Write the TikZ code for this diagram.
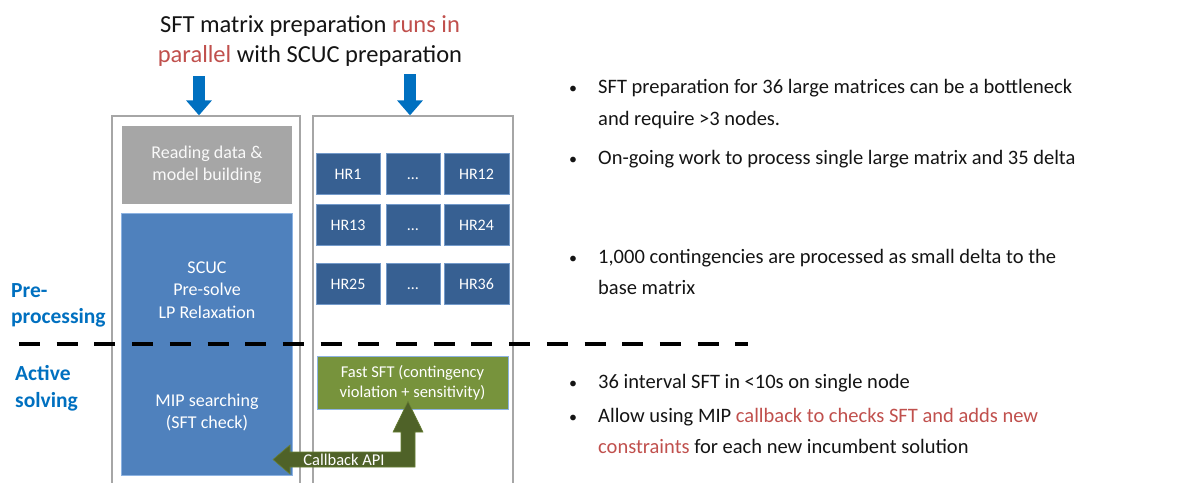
\documentclass[tikz,border=0pt]{standalone}
\usepackage{fontspec}
\setmainfont{Carlito}
\usetikzlibrary{arrows.meta}
\definecolor{arrowblue}{HTML}{0070C0}
\definecolor{accentred}{HTML}{C0504D}
\definecolor{colgray}{HTML}{A6A6A6}
\definecolor{boxgray}{HTML}{A6A6A6}
\definecolor{boxblue}{HTML}{4F81BD}
\definecolor{hrblue}{HTML}{376092}
\definecolor{edgeblue}{HTML}{8DB3E2}
\definecolor{fastgreen}{HTML}{77933C}
\definecolor{cbgreen}{HTML}{4F6228}
\definecolor{txtdark}{HTML}{141414}
\tikzset{
  column/.style={draw=colgray, line width=1.3pt, minimum width=#1, minimum height=374pt, inner sep=0pt},
  block/.style={inner sep=0pt, text=white, align=center, font=\fontsize{18}{22.5}\selectfont},
  hrbox/.style={fill=hrblue, draw=edgeblue!70!hrblue, line width=0.8pt, inner sep=0pt,
    minimum height=41pt, text height=11pt, text depth=0pt, text=white, font=\fontsize{16}{19}\selectfont},
  downarrow/.style={draw=arrowblue, line width=12pt, -{Triangle[width=25pt,length=15pt]}},
  bullettext/.style={anchor=base west, inner sep=0pt, text=txtdark, font=\fontsize{20.5}{24}\selectfont},
  bulletdot/.style={anchor=base, inner sep=0pt, text=txtdark, font=\fontsize{16}{20}\selectfont},
  phase/.style={anchor=base west, inner sep=0pt, text=arrowblue, font=\fontsize{21.5}{26}\selectfont\bfseries},
  headline/.style={anchor=base, inner sep=0pt, text=txtdark, font=\fontsize{24.5}{30}\selectfont}
}
\begin{document}
\begin{tikzpicture}[x=1pt,y=-1pt]
\useasboundingbox (0,0) rectangle (1202,482);

% heading
\node[headline] (t1) at (310,32) {SFT matrix preparation \textcolor{accentred}{runs in}};
\node[headline] (t2) at (310,62) {\textcolor{accentred}{parallel} with SCUC preparation};

% the two columns (open at the bottom)
\node[column=188pt] (lcol) at (206,303) {};
\node[column=200pt] (rcol) at (413,303) {};

% arrows into the columns
\coordinate (la) at (199,76);
\coordinate (ra) at (410,74);
\draw[downarrow] (la) -- (la |- lcol.north);
\draw[downarrow] (ra) -- (ra |- rcol.north);

% left column blocks
\node[block, fill=boxgray, minimum width=170pt, minimum height=78pt, text=white!95!gray] (read) at (207,165)
  {Reading data \&\\model building};
\node[block, fill=boxblue, draw=edgeblue, line width=0.8pt, minimum width=171pt, minimum height=262pt] (scuc) at (206.5,344) {};
\node[block, anchor=base] (s1) at (207,273) {SCUC};
\node[block, anchor=base] (s2) at (207,295) {Pre-solve};
\node[block, anchor=base] (s3) at (207,318) {LP Relaxation};
\node[block, anchor=base] (m1) at (207,406) {MIP searching};
\node[block, anchor=base] (m2) at (207,428) {(SFT check)};

% hourly matrices
\foreach \r/\y/\a/\b in {1/173.5/HR1/HR12, 2/225/HR13/HR24, 3/283.5/HR25/HR36}{
  \node[hrbox, minimum width=64pt] (h\r a) at (348,\y) {\a};
  \node[hrbox, minimum width=54pt] (h\r b) at (413,\y) {…};
  \node[hrbox, minimum width=65pt] (h\r c) at (476.5,\y) {\b};
}

% fast SFT block
\node[block, fill=fastgreen, draw=edgeblue, line width=0.9pt, minimum width=191pt, minimum height=53pt,
  font=\fontsize{16.5}{20}\selectfont] (fast) at (412.5,382.5)
  {Fast SFT (contingency\\violation + sensitivity)};

% callback connector between fast SFT and MIP search
\coordinate (cbtip) at (273,459.5);
\coordinate (uptip) at (fast.south -| 408,0);
\fill[cbgreen, draw=fastgreen!60!cbgreen, line width=0.6pt]
  (cbtip) -- ++(17,-14.5) -- ++(0,7) -- (401,452) -- (401,432) -- (393,432)
  -- ([yshift=8pt]uptip) -- (423,432) -- (415,432) -- (415,467) -- (290,467) -- (290,474) -- cycle;
\node[inner sep=0pt, text=white, font=\fontsize{16.5}{20}\selectfont] (cb) at (344,459.5) {Callback API};

% phase separator
\draw[line width=3.6pt, dash pattern=on 21pt off 16.7pt] (19,344) -- (748,344);

% phase labels
\node[phase] (pre1) at (11,297) {Pre-};
\node[phase] (pre2) at (11,323) {processing};
\node[phase] (act1) at (15,380) {Active};
\node[phase] (act2) at (15,407) {solving};

% notes
\foreach \n/\y in {1/93, 3/164, 4/263, 6/388, 7/422}{
  \node[bulletdot] (d\n) at (573,\y) {\textbullet};
}
\node[bullettext] (n1) at (598,93) {SFT preparation for 36 large matrices can be a bottleneck};
\node[bullettext] (n2) at (598,125) {and require >3 nodes.};
\node[bullettext] (n3) at (598,164) {On-going work to process single large matrix and 35 delta};
\node[bullettext] (n4) at (598,263) {1,000 contingencies are processed as small delta to the};
\node[bullettext] (n5) at (598,294) {base matrix};
\node[bullettext] (n6) at (598,388) {36 interval SFT in <10s on single node};
\node[bullettext] (n7) at (598,422) {Allow using MIP \textcolor{accentred}{callback to checks SFT and adds new}};
\node[bullettext] (n8) at (598,453) {\textcolor{accentred}{constraints} for each new incumbent solution};
\end{tikzpicture}
\end{document}
